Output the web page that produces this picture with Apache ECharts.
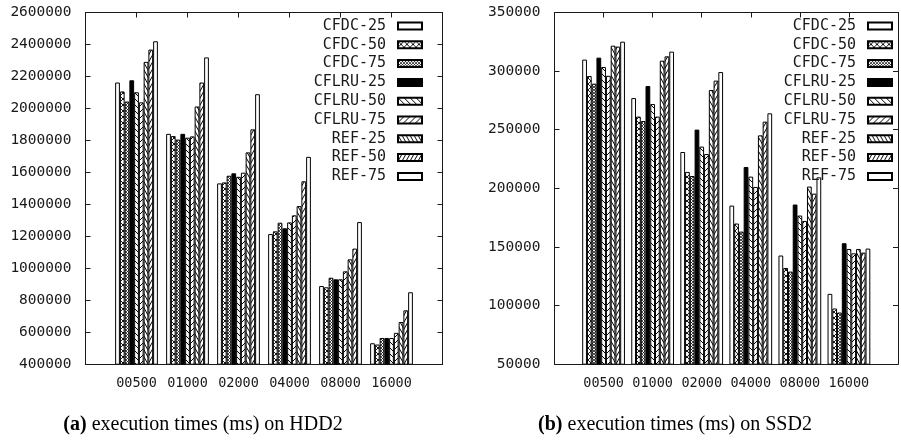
<!DOCTYPE html>
<html>
<head>
<meta charset="utf-8">
<script src="https://cdn.jsdelivr.net/npm/echarts@6/dist/echarts.min.js"></script>
<style>
  html, body { margin: 0; padding: 0; background: #fff; }
  #chart { width: 901px; height: 444px; }
</style>
</head>
<body>
<div id="chart"></div>
<script>
// Buffer sizes on the x axis
const sizes = ['00500', '01000', '02000', '04000', '08000', '16000'];
const seriesNames = ['CFDC-25', 'CFDC-50', 'CFDC-75', 'CFLRU-25', 'CFLRU-50', 'CFLRU-75', 'REF-25', 'REF-50', 'REF-75'];

// Execution times (ms) on HDD2
const hddCfdc25  = [2162000, 1841000, 1531000, 1214000,  889000, 531000];
const hddCfdc50  = [2106000, 1827000, 1537000, 1231000,  881000, 523000];
const hddCfdc75  = [2043000, 1805000, 1579000, 1285000,  941000, 564000];
const hddCflru25 = [2176000, 1841000, 1594000, 1250000,  931000, 564000];
const hddCflru50 = [2101000, 1817000, 1572000, 1287000,  931000, 564000];
const hddCflru75 = [2038000, 1825000, 1598000, 1331000,  981000, 596000];
const hddRef25   = [2291000, 2012000, 1725000, 1389000, 1056000, 664000];
const hddRef50   = [2368000, 2162000, 1869000, 1544000, 1123000, 737000];
const hddRef75   = [2420000, 2319000, 2089000, 1697000, 1289000, 850000];

// Execution times (ms) on SSD2
const ssdCfdc25  = [309800, 277000, 231000, 185300, 142700, 110000];
const ssdCfdc50  = [295800, 261200, 214000, 170000, 132100,  97500];
const ssdCfdc75  = [289300, 257400, 210500, 163100, 129000,  94100];
const ssdCflru25 = [311500, 287300, 250100, 218200, 186200, 153200];
const ssdCflru50 = [303500, 271900, 235600, 210000, 176800, 148300];
const ssdCflru75 = [296000, 261200, 229300, 201200, 172200, 144600];
const ssdRef25   = [321700, 308900, 283900, 245200, 201500, 148300];
const ssdRef50   = [320900, 312600, 291900, 256900, 195500, 145200];
const ssdRef75   = [325100, 316600, 299200, 264000, 209400, 148600];

// Y axis ranges: [min, max, step]
const hddAxis = [400000, 2600000, 200000];
const ssdAxis = [50000, 350000, 50000];

const hddSeries = [hddCfdc25, hddCfdc50, hddCfdc75, hddCflru25, hddCflru50, hddCflru75, hddRef25, hddRef50, hddRef75];
const ssdSeries = [ssdCfdc25, ssdCfdc50, ssdCfdc75, ssdCflru25, ssdCflru50, ssdCflru75, ssdRef25, ssdRef50, ssdRef75];

const MONO = '"DejaVu Sans Mono", monospace';
const SERIF = '"Liberation Serif", "DejaVu Serif", serif';
const INK = '#1a1a1a';

// Hatched fills in the style of gnuplot fill patterns
function hatch(w, h, dirs, lw) {
  const c = document.createElement('canvas');
  c.width = w; c.height = h;
  const g = c.getContext('2d');
  g.fillStyle = '#fff';
  g.fillRect(0, 0, w, h);
  g.strokeStyle = '#000';
  g.lineWidth = lw;
  for (const d of dirs) {
    for (let dx = -w; dx <= w; dx += w) {
      for (let dy = -h; dy <= h; dy += h) {
        g.beginPath();
        if (d > 0) { g.moveTo(dx, dy + h); g.lineTo(dx + w, dy); }
        else { g.moveTo(dx, dy); g.lineTo(dx + w, dy + h); }
        g.stroke();
      }
    }
  }
  return { image: c, repeat: 'repeat' };
}

const fills = [
  '#ffffff',
  hatch(6, 6, [1, -1], 0.9),
  hatch(3, 3, [1, -1], 0.7),
  '#000000',
  hatch(6, 6, [-1], 1),
  hatch(6, 6, [1], 1),
  hatch(4, 7, [-1], 1),
  hatch(4, 7, [1], 1),
  '#ffffff'
];

// Empty slots at both ends leave a half-gap around the groups
const xCats = ['', ...sizes, ''];
const pad = arr => [null, ...arr, null];

function xAxisFor(gridIndex, position, showLabels) {
  return {
    type: 'category', gridIndex, position, data: xCats, boundaryGap: false,
    axisLine: { show: true, lineStyle: { color: INK, width: 1 } },
    axisTick: { show: true, inside: true, length: 5, lineStyle: { color: INK } },
    axisLabel: { show: showLabels, interval: 0, margin: 12, fontFamily: MONO, fontSize: 13.5, color: INK },
    splitLine: { show: false }
  };
}
function yAxisFor(gridIndex, position, range, showLabels) {
  return {
    type: 'value', gridIndex, position, min: range[0], max: range[1], interval: range[2],
    axisLine: { show: true, lineStyle: { color: INK, width: 1 } },
    axisTick: { show: true, inside: true, length: 5, lineStyle: { color: INK } },
    axisLabel: {
      show: showLabels, margin: 14, fontFamily: MONO, fontSize: 14.5, color: INK,
      formatter: v => String(v)
    },
    splitLine: { show: false }
  };
}

function barsFor(values, axisIndex) {
  return values.map((vals, i) => ({
    name: seriesNames[i], type: 'bar',
    xAxisIndex: axisIndex, yAxisIndex: axisIndex,
    data: pad(vals),
    barWidth: 4.75, barGap: '0%',
    itemStyle: { color: fills[i], borderColor: '#000', borderWidth: 1 },
    emphasis: { disabled: true },
    animation: false
  }));
}

function legendAt(right) {
  return {
    data: seriesNames, orient: 'vertical', right, top: 18, align: 'right',
    icon: 'rect', itemWidth: 24, itemHeight: 7, itemGap: 2.8, padding: 0,
    selectedMode: false,
    textStyle: { fontFamily: MONO, fontSize: 15, color: INK, lineHeight: 16, padding: [0, 7, 0, 0] }
  };
}

function caption(x, tag, text) {
  return {
    type: 'text', x, y: 425,
    style: {
      text: '{b|' + tag + '} ' + text,
      fontFamily: SERIF, fontSize: 20, fill: '#000',
      textAlign: 'center', textVerticalAlign: 'middle',
      rich: { b: { fontFamily: SERIF, fontSize: 20, fontWeight: 'bold', fill: '#000' } }
    }
  };
}

const chart = echarts.init(document.getElementById('chart'), null, { renderer: 'canvas' });
chart.setOption({
  animation: false,
  backgroundColor: '#fff',
  grid: [
    { left: 85.5, top: 12.5, width: 357, height: 351.7 },
    { left: 554.5, top: 12.5, width: 357, height: 351.7 }
  ],
  xAxis: [
    xAxisFor(0, 'bottom', true), xAxisFor(0, 'top', false),
    xAxisFor(1, 'bottom', true), xAxisFor(1, 'top', false)
  ],
  yAxis: [
    yAxisFor(0, 'left', hddAxis, true), yAxisFor(0, 'right', hddAxis, false),
    yAxisFor(1, 'left', ssdAxis, true), yAxisFor(1, 'right', ssdAxis, false)
  ],
  legend: [legendAt(478), legendAt(8)],
  series: [
    ...barsFor(hddSeries, 0),
    ...barsFor(ssdSeries, 2)
  ],
  graphic: [
    caption(203, '(a)', 'execution times (ms) on HDD2'),
    caption(675, '(b)', 'execution times (ms) on SSD2')
  ]
});
</script>
</body>
</html>
